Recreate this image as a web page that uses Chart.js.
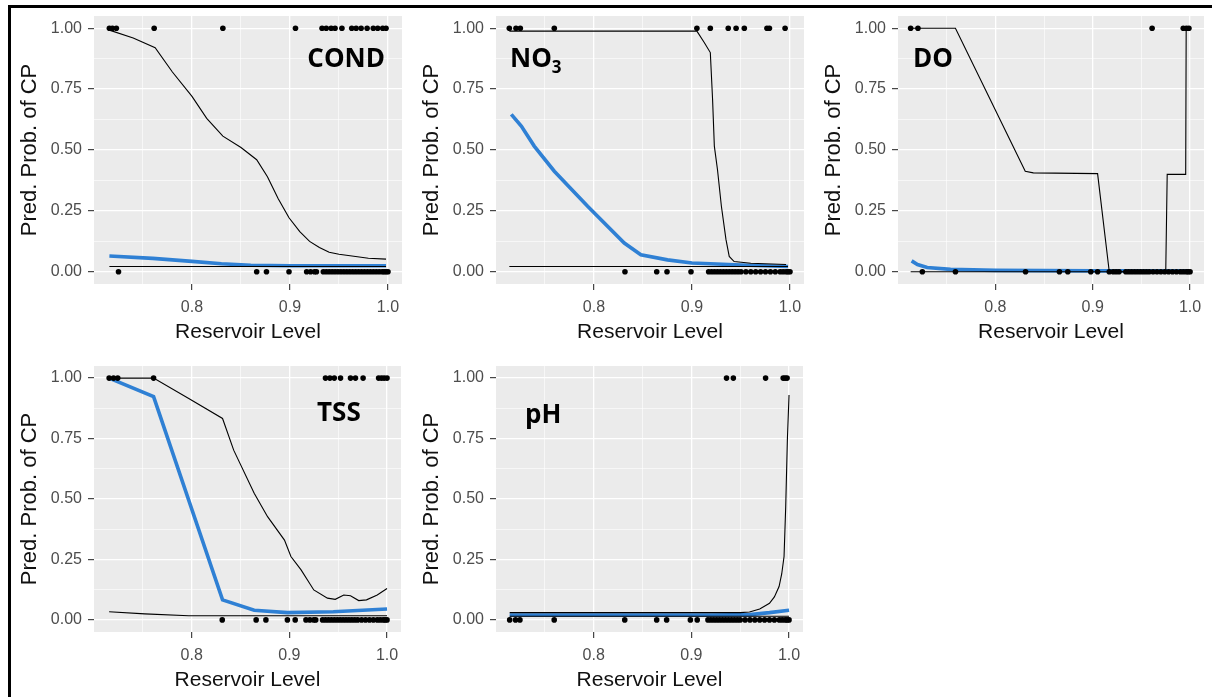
<!DOCTYPE html>
<html><head><meta charset="utf-8">
<script src="https://cdn.jsdelivr.net/npm/chart.js@4.4.1/dist/chart.umd.min.js"></script>
<style>
html,body{margin:0;padding:0;background:#fff;width:1212px;height:697px;overflow:hidden;position:relative;font-family:"Liberation Sans",Arial,sans-serif;}
.frame{position:absolute;left:8px;top:5px;width:1220px;height:710px;border-left:3px solid #000;border-top:3px solid #000;box-sizing:border-box;}
canvas{position:absolute;}
.lab{position:absolute;font-family:"Open Sans",sans-serif;font-weight:700;font-size:26px;line-height:1;color:#000;white-space:nowrap;}
.lab sub{font-size:17px;vertical-align:-6px;line-height:0;}
</style></head><body>
<div class="frame"></div>
<canvas id="c0"></canvas><canvas id="c1"></canvas><canvas id="c2"></canvas><canvas id="c3"></canvas><canvas id="c4"></canvas>
<div class="lab" style="right:827px;top:44px;">COND</div>
<div class="lab" style="left:510px;top:44px;">NO<sub>3</sub></div>
<div class="lab" style="left:913px;top:44px;">DO</div>
<div class="lab" style="left:317px;top:398px;">TSS</div>
<div class="lab" style="left:525px;top:400px;">pH</div>
<script>
// ---------- tick labels ----------
const xTickValues = [0.8, 0.9, 1.0];
const xTickLabels = ['0.8', '0.9', '1.0'];
const xMinorValues = [0.75, 0.85, 0.95];
const yTickValues = [0, 0.25, 0.5, 0.75, 1];
const yTickLabels = ['0.00', '0.25', '0.50', '0.75', '1.00'];
const yMinorValues = [0.125, 0.375, 0.625, 0.875];
const xTitle = 'Reservoir Level';
const yTitle = 'Pred. Prob. of CP';

// ---------- COND ----------
const condObs1X = [0.7157, 0.7188, 0.7228, 0.7614, 0.8315, 0.9056, 0.9327, 0.937, 0.942, 0.946, 0.953, 0.963, 0.9675, 0.9726, 0.9787, 0.985, 0.9895, 0.9946, 0.998];
const condObs0X = [0.725, 0.866, 0.876, 0.899, 0.917, 0.921, 0.925, 0.927, 0.934, 0.937, 0.94, 0.943, 0.946, 0.949, 0.952, 0.955, 0.958, 0.961, 0.964, 0.967, 0.97, 0.973, 0.976, 0.979, 0.982, 0.985, 0.988, 0.991, 0.994, 0.996, 0.998, 1.0];
const condUpperX = [0.7157, 0.74, 0.7624, 0.78, 0.8, 0.815, 0.8315, 0.85, 0.866, 0.877, 0.888, 0.899, 0.91, 0.92, 0.93, 0.94, 0.95, 0.967, 0.98, 0.998];
const condUpperY = [0.992, 0.96, 0.92, 0.82, 0.72, 0.63, 0.557, 0.51, 0.46, 0.39, 0.3, 0.222, 0.165, 0.125, 0.1, 0.08, 0.072, 0.063, 0.056, 0.052];
const condLowerX = [0.7157, 0.998];
const condLowerY = [0.022, 0.022];
const condFitX = [0.7157, 0.76, 0.8, 0.83, 0.86, 0.9, 0.95, 0.998];
const condFitY = [0.065, 0.055, 0.043, 0.033, 0.027, 0.025, 0.025, 0.025];

// ---------- NO3 ----------
const no3Obs1X = [0.7136, 0.7204, 0.7248, 0.7595, 0.905, 0.9187, 0.937, 0.945, 0.9534, 0.9765, 0.979, 0.995];
const no3Obs0X = [0.8316, 0.864, 0.8745, 0.899, 0.917, 0.92, 0.923, 0.926, 0.929, 0.932, 0.935, 0.938, 0.941, 0.944, 0.947, 0.95, 0.955, 0.96, 0.965, 0.97, 0.975, 0.98, 0.985, 0.99, 0.993, 0.996, 0.998, 1.0];
const no3UpperX = [0.7136, 0.905, 0.9125, 0.9187, 0.921, 0.9228, 0.926, 0.93, 0.9347, 0.938, 0.943, 0.96, 0.996];
const no3UpperY = [0.988, 0.988, 0.941, 0.9, 0.708, 0.516, 0.42, 0.269, 0.132, 0.063, 0.042, 0.035, 0.03];
const no3LowerX = [0.7136, 0.998];
const no3LowerY = [0.022, 0.022];
const no3FitX = [0.7156, 0.7258, 0.739, 0.7595, 0.7935, 0.8309, 0.8478, 0.875, 0.9, 0.95, 0.998];
const no3FitY = [0.646, 0.598, 0.516, 0.413, 0.269, 0.118, 0.07, 0.049, 0.036, 0.028, 0.022];

// ---------- DO ----------
const doObs1X = [0.713, 0.7205, 0.961, 0.993, 0.9962, 0.9988];
const doObs0X = [0.725, 0.759, 0.831, 0.8658, 0.8744, 0.898, 0.905, 0.917, 0.921, 0.924, 0.927, 0.934, 0.937, 0.94, 0.943, 0.946, 0.949, 0.952, 0.955, 0.958, 0.962, 0.966, 0.97, 0.974, 0.978, 0.982, 0.986, 0.99, 0.993, 0.996, 0.998, 1.0];
const doUpperX = [0.713, 0.759, 0.8307, 0.839, 0.905, 0.917, 0.975, 0.9765, 0.9955, 0.996];
const doUpperY = [1.0, 1.0, 0.413, 0.406, 0.403, 0.0, 0.0, 0.4, 0.4, 1.0];
const doLowerX = [0.713, 0.999];
const doLowerY = [0.0, 0.0];
const doFitX = [0.714, 0.72, 0.73, 0.754, 0.8, 0.9, 0.999];
const doFitY = [0.045, 0.03, 0.018, 0.01, 0.006, 0.004, 0.004];

// ---------- TSS ----------
const tssObs1X = [0.7155, 0.72, 0.7243, 0.761, 0.937, 0.9415, 0.946, 0.9524, 0.9626, 0.9677, 0.9755, 0.9914, 0.9943, 0.997, 1.0];
const tssObs0X = [0.8313, 0.866, 0.876, 0.898, 0.906, 0.917, 0.921, 0.925, 0.927, 0.934, 0.937, 0.94, 0.943, 0.946, 0.949, 0.952, 0.955, 0.958, 0.961, 0.964, 0.967, 0.97, 0.974, 0.978, 0.982, 0.986, 0.99, 0.993, 0.996, 0.998, 1.0];
const tssUpperX = [0.7155, 0.761, 0.797, 0.8316, 0.843, 0.864, 0.8777, 0.895, 0.9016, 0.912, 0.925, 0.939, 0.947, 0.9557, 0.9626, 0.971, 0.979, 0.99, 1.0];
const tssUpperY = [1.0, 1.0, 0.916, 0.833, 0.702, 0.524, 0.427, 0.33, 0.262, 0.207, 0.124, 0.09, 0.085, 0.103, 0.1, 0.08, 0.083, 0.103, 0.13];
const tssLowerX = [0.7155, 0.752, 0.797, 1.0];
const tssLowerY = [0.034, 0.025, 0.017, 0.017];
const tssFitX = [0.7155, 0.761, 0.8316, 0.864, 0.898, 0.945, 1.0];
const tssFitY = [1.0, 0.923, 0.083, 0.04, 0.03, 0.034, 0.045];

// ---------- pH ----------
const phObs1X = [0.936, 0.943, 0.976, 0.994, 0.996, 0.998];
const phObs0X = [0.714, 0.72, 0.7245, 0.7596, 0.8318, 0.8645, 0.8747, 0.899, 0.906, 0.917, 0.92, 0.923, 0.926, 0.929, 0.932, 0.935, 0.938, 0.941, 0.944, 0.947, 0.95, 0.955, 0.96, 0.965, 0.97, 0.975, 0.98, 0.985, 0.99, 0.993, 0.996, 0.998, 1.0];
const phUpperX = [0.714, 0.95, 0.9595, 0.97, 0.98, 0.985, 0.9898, 0.9925, 0.9949, 0.9966, 0.9983, 1.0];
const phUpperY = [0.03, 0.03, 0.033, 0.045, 0.069, 0.095, 0.138, 0.19, 0.262, 0.468, 0.744, 0.93];
const phLowerX = [0.714, 1.0];
const phLowerY = [0.015, 0.015];
const phFitX = [0.714, 0.92, 0.96, 0.98, 1.0];
const phFitY = [0.02, 0.02, 0.022, 0.03, 0.04];

// ---------- layout (pixel placement of each panel's plotting area) ----------
const layout = [
  {canvas:'c0', left:94,  top:16,  w:308, h:268},
  {canvas:'c1', left:496, top:16,  w:308, h:268},
  {canvas:'c2', left:898, top:16,  w:306, h:268},
  {canvas:'c3', left:94,  top:366, w:307, h:266},
  {canvas:'c4', left:496, top:366, w:307, h:266}
];
const panelData = [
  {o1:condObs1X, o0:condObs0X, ux:condUpperX, uy:condUpperY, lx:condLowerX, ly:condLowerY, fx:condFitX, fy:condFitY},
  {o1:no3Obs1X,  o0:no3Obs0X,  ux:no3UpperX,  uy:no3UpperY,  lx:no3LowerX,  ly:no3LowerY,  fx:no3FitX,  fy:no3FitY},
  {o1:doObs1X,   o0:doObs0X,   ux:doUpperX,   uy:doUpperY,   lx:doLowerX,   ly:doLowerY,   fx:doFitX,   fy:doFitY},
  {o1:tssObs1X,  o0:tssObs0X,  ux:tssUpperX,  uy:tssUpperY,  lx:tssLowerX,  ly:tssLowerY,  fx:tssFitX,  fy:tssFitY},
  {o1:phObs1X,   o0:phObs0X,   ux:phUpperX,   uy:phUpperY,   lx:phLowerX,   ly:phLowerY,   fx:phFitX,   fy:phFitY}
];

const Y_W = 82, X_H = 62, PAD_T = 4, PAD_R = 4;
const FONT = '"Liberation Sans", Arial, sans-serif';
const near = (a, b) => Math.abs(a - b) < 1e-9;
const idxIn = (arr, v) => arr.findIndex(t => near(t, v));

const bgPlugin = {
  id: 'panelBg',
  beforeDraw(chart) {
    const {ctx, chartArea: a} = chart;
    ctx.save();
    ctx.fillStyle = '#EBEBEB';
    ctx.fillRect(a.left, a.top, a.right - a.left, a.bottom - a.top);
    ctx.restore();
  }
};

function pairs(xs, ys) { return xs.map((x, i) => ({x, y: ys[i]})); }
function zeroPad(s) { s.paddingTop = 0; s.paddingBottom = 0; s.paddingLeft = 0; s.paddingRight = 0; }

layout.forEach((L, k) => {
  const d = panelData[k];
  const cv = document.getElementById(L.canvas);
  const W = Y_W + L.w + PAD_R, H = PAD_T + L.h + X_H;
  cv.width = W; cv.height = H;
  cv.style.left = (L.left - Y_W) + 'px';
  cv.style.top = (L.top - PAD_T) + 'px';
  cv.style.width = W + 'px'; cv.style.height = H + 'px';

  const lineDs = (data, color, width) => ({data, showLine: true, borderColor: color, borderWidth: width, pointRadius: 0, fill: false, tension: 0});
  const ptDs = (data) => ({data, showLine: false, pointRadius: 2.8, pointBackgroundColor: '#000', pointBorderWidth: 0, borderColor: '#000'});

  new Chart(cv, {
    type: 'scatter',
    data: {
      datasets: [
        ptDs(d.o1.map(x => ({x, y: 1}))),
        ptDs(d.o0.map(x => ({x, y: 0}))),
        lineDs(pairs(d.ux, d.uy), '#000', 1.1),
        lineDs(pairs(d.lx, d.ly), '#000', 1.1),
        lineDs(pairs(d.fx, d.fy), '#2F80D4', 3.6)
      ]
    },
    options: {
      responsive: false,
      devicePixelRatio: 1,
      animation: false,
      events: [],
      layout: {padding: {left: 0, right: PAD_R, top: PAD_T, bottom: 0}},
      plugins: {legend: {display: false}, tooltip: {enabled: false}},
      scales: {
        x: {
          type: 'linear', position: 'bottom', min: 0.7, max: 1.0143,
          afterBuildTicks: s => { s.ticks = [...xMinorValues, ...xTickValues].sort((a, b) => a - b).map(v => ({value: v})); },
          afterFit: s => { s.height = X_H; zeroPad(s); },
          border: {display: false},
          grid: {
            color: '#FFFFFF',
            lineWidth: c => idxIn(xTickValues, c.tick.value) >= 0 ? 1.3 : 0.6,
            tickColor: c => idxIn(xTickValues, c.tick.value) >= 0 ? '#333333' : 'rgba(0,0,0,0)',
            tickWidth: 1.1, tickLength: 6, drawTicks: true
          },
          ticks: {
            autoSkip: false, maxRotation: 0, padding: 8, color: '#4D4D4D',
            font: {family: FONT, size: 16},
            callback: v => { const i = idxIn(xTickValues, v); return i >= 0 ? xTickLabels[i] : ''; }
          },
          title: {display: true, text: xTitle, color: '#111', font: {family: FONT, size: 21}, padding: {top: 0, bottom: 1}}
        },
        y: {
          type: 'linear', position: 'left', min: -0.05, max: 1.05,
          afterBuildTicks: s => { s.ticks = [...yMinorValues, ...yTickValues].sort((a, b) => a - b).map(v => ({value: v})); },
          afterFit: s => { s.width = Y_W; zeroPad(s); },
          border: {display: false},
          grid: {
            color: '#FFFFFF',
            lineWidth: c => idxIn(yTickValues, c.tick.value) >= 0 ? 1.3 : 0.6,
            tickColor: c => idxIn(yTickValues, c.tick.value) >= 0 ? '#333333' : 'rgba(0,0,0,0)',
            tickWidth: 1.1, tickLength: 6, drawTicks: true
          },
          ticks: {
            autoSkip: false, padding: 6, color: '#4D4D4D',
            font: {family: FONT, size: 16},
            callback: v => { const i = idxIn(yTickValues, v); return i >= 0 ? yTickLabels[i] : ''; }
          },
          title: {display: true, text: yTitle, color: '#111', font: {family: FONT, size: 22}, padding: {top: 5, bottom: 0}}
        }
      }
    },
    plugins: [bgPlugin]
  });
});
</script>
</body></html>
